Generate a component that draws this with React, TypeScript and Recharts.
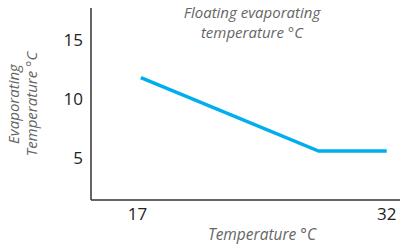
import React from 'react';
import { LineChart, Line, XAxis, YAxis } from 'recharts';

// outdoor temperature (°C) vs floating evaporating temperature (°C)
const temperature = [17.2, 27.9, 32];
const evaporating = [11.8, 5.6, 5.6];
const xTicks = [17, 32];
const yTicks = [5, 10, 15];

const data = temperature.map((t, i) => ({ t, evap: evaporating[i] }));

const font = '"Open Sans", sans-serif';

const YLabel = () => (
  <text
    transform="rotate(-90, 23, 104)"
    x={23}
    y={104}
    textAnchor="middle"
    fontFamily={font}
    fontStyle="italic"
    fontSize={15}
    fill="#666"
  >
    <tspan x={23} dy={-4}>Evaporating</tspan>
    <tspan x={23} dy={18}>Temperature °C</tspan>
  </text>
);

const XLabel = () => (
  <text x={262} y={240} textAnchor="middle" fontFamily={font} fontStyle="italic" fontSize={15.5} fill="#666">
    Temperature °C
  </text>
);

export default function App() {
  return (
    <div style={{ position: 'relative', width: 400, height: 248 }}>
      <style>{'body{margin:0}'}</style>
      <div
        style={{
          position: 'absolute',
          left: 152,
          top: 2,
          width: 200,
          textAlign: 'center',
          fontFamily: font,
          fontStyle: 'italic',
          fontSize: 15,
          lineHeight: '20px',
          color: '#666',
        }}
      >
        Floating evaporating
        <br />
        temperature °C
      </div>
      <LineChart width={400} height={248} data={data} margin={{ top: 8, right: 0, bottom: 0, left: 0 }}>
        <XAxis
          dataKey="t"
          type="number"
          domain={[14.2, 32.8]}
          ticks={xTicks}
          tickLine={false}
          axisLine={{ stroke: '#333', strokeWidth: 1.5 }}
          tick={{ fill: '#222', fontSize: 17, fontFamily: font }}
          height={48}
          label={<XLabel />}
          allowDataOverflow
        />
        <YAxis
          type="number"
          domain={[1.46, 17.68]}
          ticks={yTicks}
          tickLine={false}
          axisLine={{ stroke: '#333', strokeWidth: 1.5 }}
          tick={{ fill: '#222', fontSize: 17, fontFamily: font }}
          width={91}
          label={<YLabel />}
          allowDataOverflow
        />
        <Line
          dataKey="evap"
          type="linear"
          stroke="#00AEEF"
          strokeWidth={3.5}
          dot={false}
          isAnimationActive={false}
        />
      </LineChart>
    </div>
  );
}
